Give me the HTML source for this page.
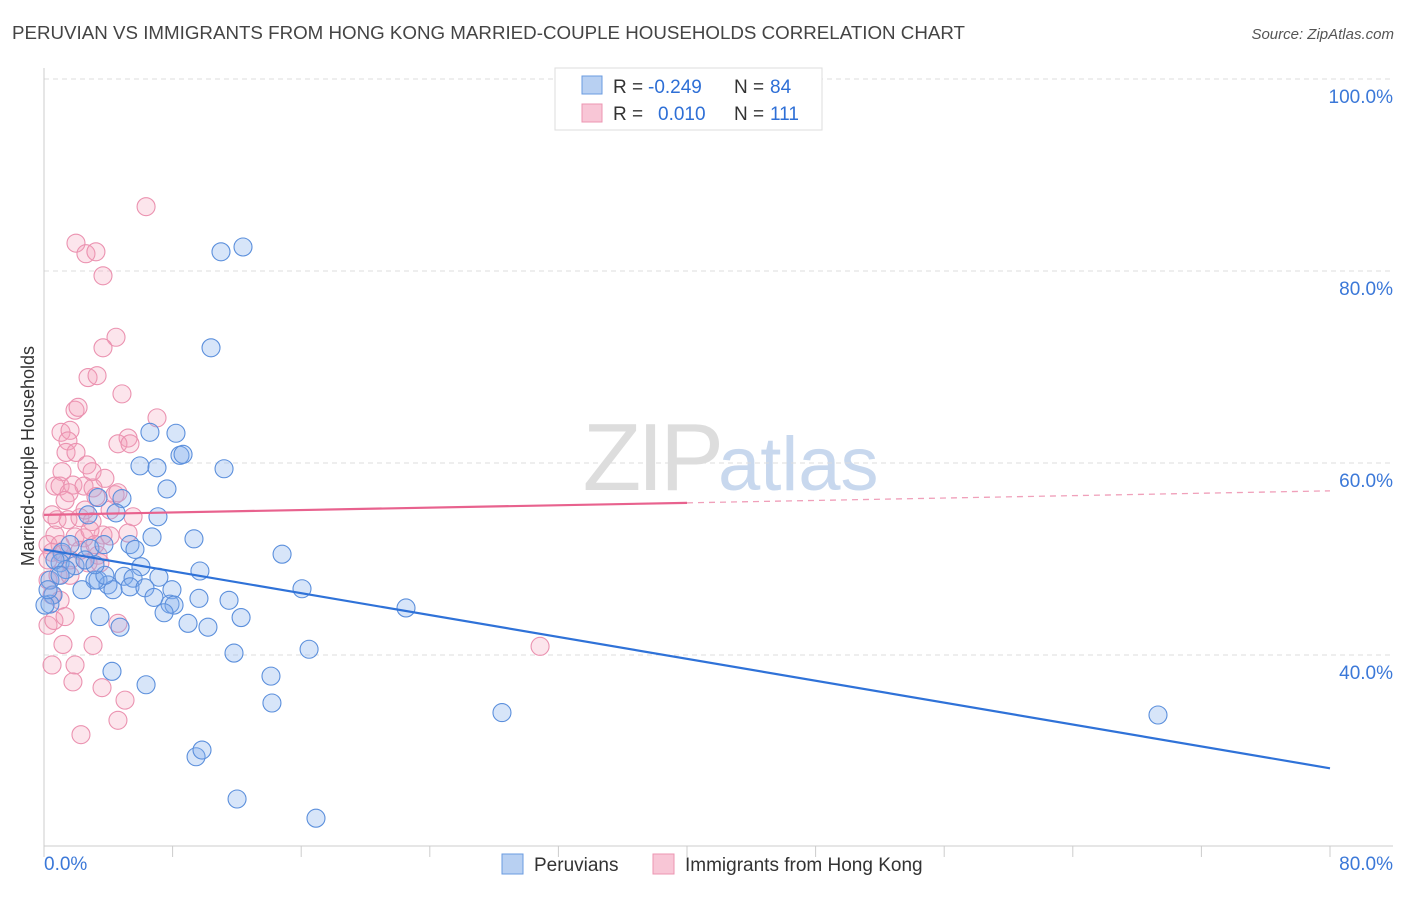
<!DOCTYPE html>
<html><head><meta charset="utf-8"><style>
body{margin:0;background:#fff;font-family:"Liberation Sans",sans-serif;}
svg text{font-family:"Liberation Sans",sans-serif;}
</style></head><body>
<svg id="chart" width="1406" height="892" viewBox="0 0 1406 892" xmlns="http://www.w3.org/2000/svg">
<text x="12" y="39" font-size="18" fill="#444" textLength="953" lengthAdjust="spacingAndGlyphs">PERUVIAN VS IMMIGRANTS FROM HONG KONG MARRIED-COUPLE HOUSEHOLDS CORRELATION CHART</text>
<text x="1394" y="39" font-size="15" fill="#555" text-anchor="end" font-style="italic">Source: ZipAtlas.com</text>
<text x="720" y="490" font-size="96" fill="#ddd" text-anchor="end" font-family="Liberation Serif" letter-spacing="-4">ZIP</text>
<text x="718" y="490" font-size="76" fill="#c8d8ee">atlas</text>
<g id="grid"></g>
<g id="axes"></g>
<g id="pts"></g>
<g id="trends"></g>
<text transform="translate(34,456) rotate(-90)" font-size="18" fill="#333" text-anchor="middle">Married-couple Households</text>
<g>
<rect x="555" y="68" width="267" height="62" fill="#fff" stroke="#ddd"/>
<rect x="582" y="76" width="20" height="18" fill="#b8d0f2" stroke="#6a9be0"/>
<rect x="582" y="104" width="20" height="18" fill="#f8c6d6" stroke="#ec95b2"/>
<text x="613" y="93" font-size="19" fill="#333">R =</text>
<text x="648" y="93" font-size="19" fill="#2e6fd6">-0.249</text>
<text x="734" y="93" font-size="19" fill="#333">N =</text>
<text x="770" y="93" font-size="19" fill="#2e6fd6">84</text>
<text x="613" y="120" font-size="19" fill="#333">R =</text>
<text x="658" y="120" font-size="19" fill="#2e6fd6">0.010</text>
<text x="734" y="120" font-size="19" fill="#333">N =</text>
<text x="770" y="120" font-size="19" fill="#2e6fd6">111</text>
</g>
<g>
<rect x="502" y="854" width="21" height="20" fill="#b8d0f2" stroke="#6a9be0"/>
<text x="534" y="871" font-size="19" fill="#333">Peruvians</text>
<rect x="653" y="854" width="21" height="20" fill="#f8c6d6" stroke="#ec95b2"/>
<text x="685" y="871" font-size="19" fill="#333">Immigrants from Hong Kong</text>
</g>
</svg>
<script>
const blueX=[11.01,12.38,10.39,6.59,8.21,8.46,8.65,5.97,7.03,11.20,7.65,3.36,4.85,4.48,7.09,6.72,9.33,5.35,5.66,14.81,2.86,1.12,1.00,1.93,9.70,7.15,6.03,4.98,5.54,3.36,3.98,3.17,1.37,16.05,5.35,2.36,6.28,6.84,7.96,7.84,8.09,9.64,11.51,22.52,3.48,7.47,12.26,8.96,10.20,4.73,0.56,0.37,11.82,16.49,4.23,14.12,6.35,14.18,28.49,69.30,9.46,9.83,12.01,16.92,0.37,0.06,0.68,1.62,2.55,3.73,2.74,1.00,4.29,3.79,3.17,0.25];
const blueY=[82.0,82.5,72.0,63.2,63.1,60.8,60.9,59.7,59.5,59.4,57.3,56.4,56.3,54.8,54.4,52.3,52.1,51.5,51.0,50.5,51.1,50.7,49.6,49.3,48.75,48.1,49.2,48.2,48.0,47.8,47.3,47.8,48.9,46.9,47.1,46.8,47.0,46.0,46.8,45.3,45.2,45.9,45.7,44.9,44.0,44.4,43.9,43.3,42.9,42.9,46.25,45.3,40.2,40.6,38.3,37.8,36.9,35.0,34.0,33.75,29.4,30.1,25.0,23.0,47.8,45.2,49.9,51.5,49.9,51.5,54.6,48.3,46.8,48.3,49.4,46.8];
const pinkX=[6.35,1.99,2.61,3.23,3.67,4.48,3.67,2.74,3.30,4.85,1.93,2.12,7.03,1.06,1.62,5.23,4.60,1.49,1.37,1.99,2.67,2.99,1.12,3.79,0.68,1.00,1.80,2.49,3.05,3.23,1.56,4.42,4.60,5.54,0.81,1.49,0.50,2.24,2.99,0.68,0.25,1.00,1.93,2.49,3.67,4.11,5.23,0.50,1.12,0.25,1.62,2.74,3.48,3.36,0.25,0.87,0.50,1.00,0.25,0.62,1.31,4.60,3.05,1.18,0.50,1.93,3.61,1.80,5.04,4.60,2.30,30.86,5.35,4.11,2.86,2.24,1.62,3.17,1.31,2.55];
const pinkY=[86.7,82.9,81.8,82.0,79.5,73.1,72.0,68.9,69.1,67.2,65.5,65.8,64.7,63.2,63.4,62.6,62.0,62.3,61.1,61.1,59.8,59.1,59.1,58.4,57.6,57.6,57.7,57.6,57.4,56.5,56.9,56.7,56.9,54.4,54.1,54.1,54.6,54.3,53.9,52.5,51.5,51.5,52.3,52.2,52.5,52.4,52.7,50.7,50.5,49.9,49.9,49.6,49.6,50.4,47.8,48.3,46.25,45.7,43.1,43.6,44.0,43.3,41.0,41.1,38.96,38.96,36.6,37.2,35.3,33.2,31.7,40.9,62.0,55.1,53.0,50.9,48.3,51.5,56.1,55.1];
const blueTrend=[51.0,28.2];   // y at x=0 and x=80
const pinkTrend=[54.6,57.1];   // y at x=0 and x=80
const yTicks=[100,80,60,40];
const xLabels=["0.0%","80.0%"];
const NS="http://www.w3.org/2000/svg";
const sx=v=>44+v*1286/80, sy=v=>79+(100-v)*9.6;
function mk(tag,attrs,parent){const e=document.createElementNS(NS,tag);for(const k in attrs)e.setAttribute(k,attrs[k]);parent.appendChild(e);return e;}
const grid=document.getElementById('grid'),axes=document.getElementById('axes'),pts=document.getElementById('pts'),tr=document.getElementById('trends');
yTicks.forEach(t=>{
  const l=mk('line',{x1:44,x2:1393,y1:sy(t),y2:sy(t),stroke:'#ddd','stroke-dasharray':'5,4'},grid);
  
  
  const tx=mk('text',{x:1393,y:sy(t)+24,'font-size':19,fill:'#3b78d8','text-anchor':'end'},grid);
  tx.textContent=t.toFixed(1)+'%';
  
  
});
const xa=mk('line',{x1:44,x2:1393,y1:846,y2:846,stroke:'#ccc'},axes);


const ya=mk('line',{x1:44,x2:44,y1:68,y2:846,stroke:'#ccc'},axes);


for(let i=0;i<=10;i++){const t=mk('line',{x1:sx(i*8),x2:sx(i*8),y1:846,y2:857,stroke:'#ccc'},axes);
  
  }
const xl0=mk('text',{x:44,y:870,'font-size':19,fill:'#3b78d8'},axes);xl0.textContent=xLabels[0];


const xl1=mk('text',{x:1393,y:870,'font-size':19,fill:'#3b78d8','text-anchor':'end'},axes);xl1.textContent=xLabels[1];


pinkX.forEach((x,i)=>{const c=mk('circle',{cx:sx(x),cy:sy(pinkY[i]),r:9,fill:'rgba(244,160,188,0.28)',stroke:'#eb92b0','stroke-width':1.1},pts);
  
  });
blueX.forEach((x,i)=>{const c=mk('circle',{cx:sx(x),cy:sy(blueY[i]),r:9,fill:'rgba(130,175,235,0.32)',stroke:'#5b8fdc','stroke-width':1.1},pts);
  
  });
const by=x=>blueTrend[0]+(blueTrend[1]-blueTrend[0])*x/80, py=x=>pinkTrend[0]+(pinkTrend[1]-pinkTrend[0])*x/80;
const bl=mk('line',{x1:sx(0),y1:sy(by(0)),x2:sx(80),y2:sy(by(80)),stroke:'#2f72d8','stroke-width':2.2},tr);


const pl=mk('line',{x1:sx(0),y1:sy(py(0)),x2:sx(40),y2:sy(py(40)),stroke:'#e8628e','stroke-width':2.2},tr);


const pd=mk('line',{x1:sx(40),y1:sy(py(40)),x2:sx(80),y2:sy(py(80)),stroke:'#f0a0ba','stroke-width':1.3,'stroke-dasharray':'6,5'},tr);


</script>
</body></html>
